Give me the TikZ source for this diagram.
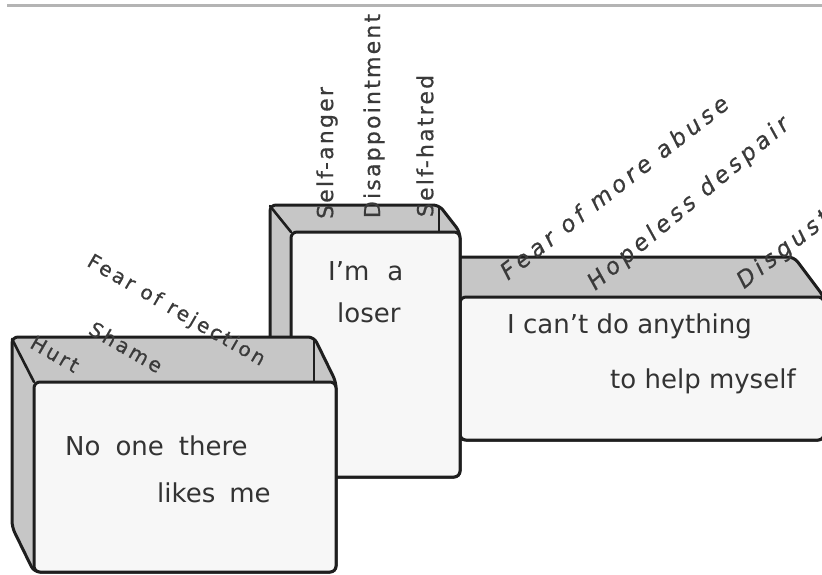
\documentclass[tikz,border=0pt]{standalone}
\usepackage{fontspec}
\setmainfont{DejaVu Sans}
\newfontfamily\lblfontA[LetterSpace=14,FakeBold=0.6]{DejaVu Sans}
\newfontfamily\lblfontB[LetterSpace=10,FakeBold=0.6]{DejaVu Sans}
\newfontfamily\lblfontC[LetterSpace=18,FakeBold=0.6]{DejaVu Sans}
\definecolor{lineclr}{HTML}{1E1E1E}
\definecolor{facegray}{HTML}{C6C6C6}
\definecolor{frontclr}{HTML}{F7F7F7}
\definecolor{txtclr}{HTML}{333333}
\definecolor{lblclr}{HTML}{3A3A3A}
\definecolor{rulegray}{HTML}{B4B4B4}
\begin{document}
\begin{tikzpicture}[x=1pt,y=-1pt,
  edge/.style={draw=lineclr, line width=3pt, line join=round, rounded corners=6pt},
  silhouette/.style={edge, fill=facegray},
  frontface/.style={edge, fill=frontclr},
  inner/.style={draw=lineclr, line width=2.6pt, line cap=round},
  maintext/.style={inner sep=0pt, anchor=base west, text=txtclr, font=\fontsize{26}{30}\selectfont},
  lblleft/.style={inner sep=0pt, text=lblclr, rotate=-30, font=\lblfontA\fontsize{20}{20}\selectfont},
  lblmid/.style={inner sep=0pt, text=lblclr, rotate=90, font=\lblfontB\fontsize{22}{22}\selectfont},
  lblright/.style={inner sep=0pt, text=lblclr, font=\lblfontC\itshape\fontsize{23}{23}\selectfont}]
\useasboundingbox (0,0) rectangle (822,575);
\begin{scope}
\clip (0,0) rectangle (822,575);
% top rule
\draw[rulegray, line width=3pt] (7,6) -- (822,6);
% ---- box C (right, back-most)
\path[silhouette] (433,257) -- (794,257) -- (824,297) -- (824,440) -- (460,440) -- (433,400) -- cycle;
\path[frontface] (460,297) rectangle (824,440);
% ---- box B (middle)
\path[silhouette] (270,205) -- (439,205) -- (460,232) -- (460,477) -- (291,477) -- (270,450) -- cycle;
\draw[inner] (270,206) -- (291,232);
\draw[inner] (439,207) -- (439,232);
\path[frontface] (291,232) rectangle (460,477);
% ---- box A (left, front-most)
\path[silhouette] (12,337) -- (314,337) -- (336,382) -- (336,572) -- (34,572) -- (12,527) -- cycle;
\draw[inner] (12,339) -- (34,382);
\draw[inner] (314,339) -- (314,382);
\path[frontface] (34,382) rectangle (336,572);
% ---- texts on the fronts
\node[maintext] (a1) at (65,455) {No\hspace{15pt}one\hspace{15pt}there};
\node[maintext] (a2) at (157,502) {likes\hspace{14pt}me};
\node[maintext] (b1) at (328,280) {I’m\hspace{18pt}a};
\node[maintext] (b2) at (337,322) {loser};
\node[maintext] (c1) at (507,333) {I can’t do anything};
\node[maintext] (c2) at (610,388) {to help myself};
% ---- emotion labels
\node[lblleft] (fr) at (176,311) {Fear of rejection};
\node[lblleft] (sh) at (126,347) {Shame};
\node[lblleft] (hu) at (55,354) {Hurt};
\node[lblmid] (sa) at (327,153) {Self-anger};
\node[lblmid] (di) at (374,116) {Disappointment};
\node[lblmid] (sf) at (425,146) {Self-hatred};
\node[lblright, rotate=38] (fa) at (614,187) {Fear of more abuse};
\node[lblright, rotate=40] (hd) at (689,204) {Hopeless despair};
\node[lblright, rotate=38] (dg) at (784,250) {Disgust};
\end{scope}
\end{tikzpicture}
\end{document}
